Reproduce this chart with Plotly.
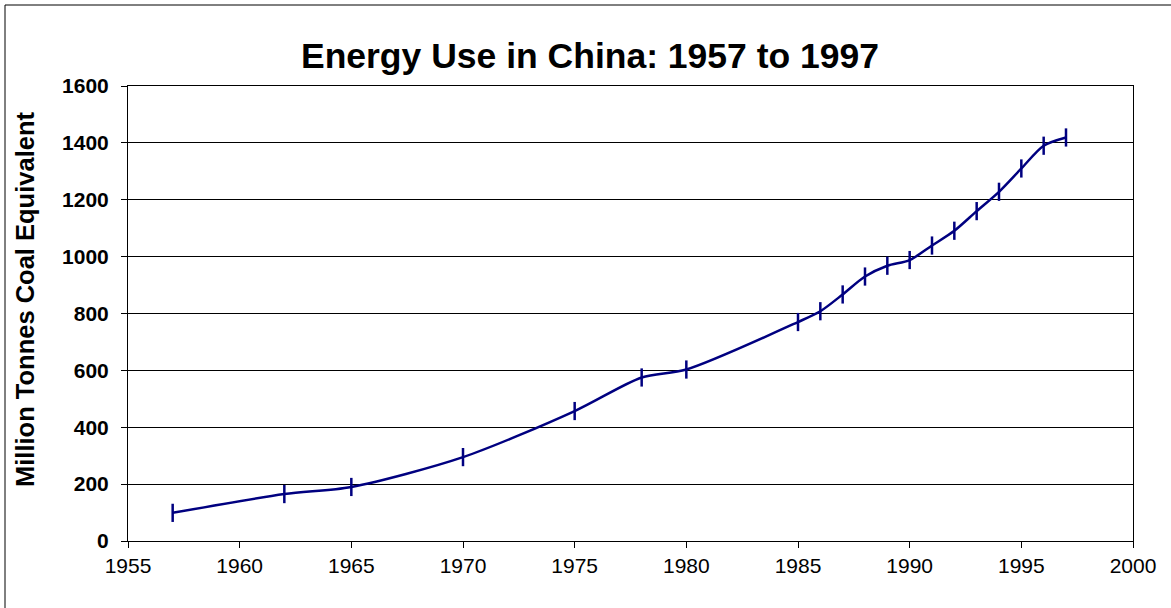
import plotly.graph_objects as go

# Annual energy use, million tonnes coal equivalent
years = [1957, 1962, 1965, 1970, 1975, 1978, 1980, 1985, 1986, 1987,
         1988, 1989, 1990, 1991, 1992, 1993, 1994, 1995, 1996, 1997]
energy_use = [99, 165, 190, 295, 457, 575, 603, 770, 808, 867,
              930, 968, 988, 1039, 1091, 1160, 1228, 1310, 1390, 1419]

x_ticks = [1955, 1960, 1965, 1970, 1975, 1980, 1985, 1990, 1995, 2000]
y_ticks = [0, 200, 400, 600, 800, 1000, 1200, 1400, 1600]

FONT = "Liberation Sans, Arial, sans-serif"
NAVY = "#000080"

W, H = 1171, 608
L, R, T, B = 128, 38, 86, 67
pw, ph = W - L - R, H - T - B

fig = go.Figure()
fig.add_trace(go.Scatter(
    x=years, y=energy_use,
    mode="lines+markers",
    line=dict(color=NAVY, width=2.5, shape="spline", smoothing=0.8),
    marker=dict(symbol="line-ns", size=13, line=dict(color=NAVY, width=2.5)),
    showlegend=False,
))

axis_common = dict(
    showline=True, linecolor="black", linewidth=1, mirror=True,
    ticks="outside", ticklen=6, tickcolor="black", tickwidth=1,
    zeroline=False,
)

fig.update_xaxes(
    range=[1955, 2000], tickvals=x_ticks, ticktext=[str(v) for v in x_ticks],
    showgrid=False, tickfont=dict(family=FONT, size=21, color="black"),
    **axis_common,
)
fig.update_yaxes(
    range=[0, 1600], tickvals=y_ticks, ticktext=[f"<b>{v}</b>" for v in y_ticks],
    showgrid=True, gridcolor="black", gridwidth=1,
    tickfont=dict(family=FONT, size=21, color="black"),
    ticklabelstandoff=8,
    **axis_common,
)

# outer chart frame
fig.add_shape(type="rect", xref="paper", yref="paper",
              x0=(5 - L) / pw, x1=(W + 20 - L) / pw,
              y0=(T + ph - (H + 20)) / ph, y1=(T + ph - 5) / ph,
              line=dict(color="black", width=1), fillcolor="rgba(0,0,0,0)",
              layer="below")

fig.add_annotation(
    text="<b>Million Tonnes Coal Equivalent</b>",
    xref="paper", yref="paper",
    x=(25 - L) / pw, y=(T + ph - 300) / ph,
    xanchor="center", yanchor="middle", textangle=-90, showarrow=False,
    font=dict(family=FONT, size=25.5, color="black"),
)

fig.update_layout(
    width=W, height=H,
    margin=dict(l=L, r=R, t=T, b=B),
    paper_bgcolor="white", plot_bgcolor="white",
    title=dict(
        text="<b>Energy Use in China: 1957 to 1997</b>",
        x=590 / W, xanchor="center", y=1 - 56 / H, yanchor="middle",
        font=dict(family=FONT, size=35.5, color="black"),
    ),
)

fig.write_html("out.html")
